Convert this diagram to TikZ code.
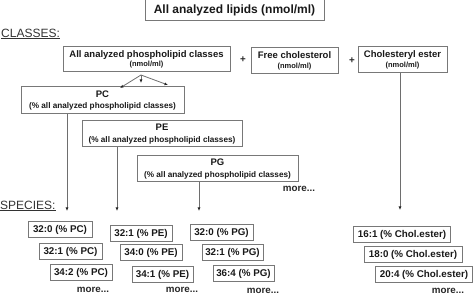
\documentclass[tikz,border=0pt]{standalone}
\usepackage{fontspec}
\setmainfont{Liberation Sans}
\usetikzlibrary{arrows.meta}

\definecolor{boxgray}{RGB}{120,120,120}
\definecolor{linegray}{RGB}{110,110,110}

\begin{document}
\begin{tikzpicture}[x=1pt,y=-1pt,
    box/.style={draw=boxgray, line width=1pt, fill=white, text=black!90, align=center, inner sep=0pt,
                font=\bfseries\fontsize{9.5}{10.5}\selectfont},
    sbox/.style={box, minimum height=16, font=\bfseries\fontsize{9.8}{11}\selectfont},
    arr/.style={draw=linegray, line width=0.8pt, -{Latex[length=3.5pt,width=3pt,color=black!85]}},
    lbl/.style={anchor=west, inner sep=0pt, text=black!80, font=\fontsize{12}{14}\selectfont},
    more/.style={inner sep=0pt, text=black!85, font=\bfseries\fontsize{9.8}{11}\selectfont}]
    \useasboundingbox (0,0) rectangle (474,296);

    % fejlec
    \node[box, minimum width=179, minimum height=21, font=\bfseries\fontsize{12}{14}\selectfont] (all) at (234.5,10.5) {All analyzed lipids (nmol/ml)};
    \node[lbl] (classes) at (1,34) {\underline{CLASSES:}};

    % osztalyok
    \node[box, minimum width=167, minimum height=25] (pl) at (146.5,59.5) {All analyzed phospholipid classes\\[-1pt]{\fontsize{7.5}{8}\selectfont (nmol/ml)}};
    \node[more] (plus1) at (243,60) {+};
    \node[box, minimum width=87, minimum height=26] (fc) at (294.5,61) {Free cholesterol\\[-1pt]{\fontsize{7.5}{8}\selectfont (nmol/ml)}};
    \node[more] (plus2) at (352,61) {+};
    \node[box, minimum width=89, minimum height=26] (ce) at (402.5,60) {Cholesteryl ester\\[-1pt]{\fontsize{7.5}{8}\selectfont (nmol/ml)}};

    \node[box, minimum width=163, minimum height=27] (pc) at (102.5,100.5) {PC\\[1pt]{\fontsize{8.2}{9}\selectfont (\% all analyzed phospholipid classes)}};
    \node[box, minimum width=160, minimum height=26] (pe) at (162,134) {PE\\[1pt]{\fontsize{8.2}{9}\selectfont (\% all analyzed phospholipid classes)}};
    \node[box, minimum width=161, minimum height=26] (pg) at (217.5,169) {PG\\[1pt]{\fontsize{8.2}{9}\selectfont (\% all analyzed phospholipid classes)}};
    \node[more] (moreclass) at (299,189) {more...};

    % elagazas
    \coordinate (split) at (141,75);
    \coordinate (splitL) at (120,88);
    \coordinate (splitM) at (141,83);
    \coordinate (splitR) at (168,85);
    \draw[arr] (split) -- (splitL);
    \draw[arr] (split) -- (splitM);
    \draw[arr] (split) -- (splitR);

    % fajok
    \node[lbl] (species) at (0,206) {\underline{SPECIES:}};

    \node[sbox, minimum width=64] (pc1) at (60,229.5) {32:0 (\% PC)};
    \node[sbox, minimum width=63] (pc2) at (70.5,251.5) {32:1 (\% PC)};
    \node[sbox, minimum width=62] (pc3) at (81,273) {34:2 (\% PC)};
    \node[more] (morepc) at (93,290) {more...};

    \node[sbox, minimum width=62] (pe1) at (141,234) {32:1 (\% PE)};
    \node[sbox, minimum width=62] (pe2) at (151,253) {34:0 (\% PE)};
    \node[sbox, minimum width=61] (pe3) at (162.5,275) {34:1 (\% PE)};
    \node[more] (morepe) at (182,290) {more...};

    \node[sbox, minimum width=63] (pg1) at (221.5,233) {32:0 (\% PG)};
    \node[sbox, minimum width=61] (pg2) at (232.5,252.5) {32:1 (\% PG)};
    \node[sbox, minimum width=61] (pg3) at (243.5,273.5) {36:4 (\% PG)};
    \node[more] (morepg) at (263,291) {more...};

    \node[sbox, minimum width=97] (ce1) at (402,235) {16:1 (\% Chol.ester)};
    \node[sbox, minimum width=98] (ce2) at (413,254.5) {18:0 (\% Chol.ester)};
    \node[sbox, minimum width=97] (ce3) at (424,274.5) {20:4 (\% Chol.ester)};
    \node[more] (morece) at (448,291) {more...};

    % fuggoleges nyilak
    \coordinate (tippc) at (67,211);
    \coordinate (tippe) at (117,211);
    \coordinate (tippg) at (199,211);
    \coordinate (tipce) at (400,210);
    \draw[arr] (pc.south -| tippc) -- (tippc);
    \draw[arr] (pe.south -| tippe) -- (tippe);
    \draw[arr] (pg.south -| tippg) -- (tippg);
    \draw[arr] (ce.south -| tipce) -- (tipce);

\end{tikzpicture}
\end{document}
